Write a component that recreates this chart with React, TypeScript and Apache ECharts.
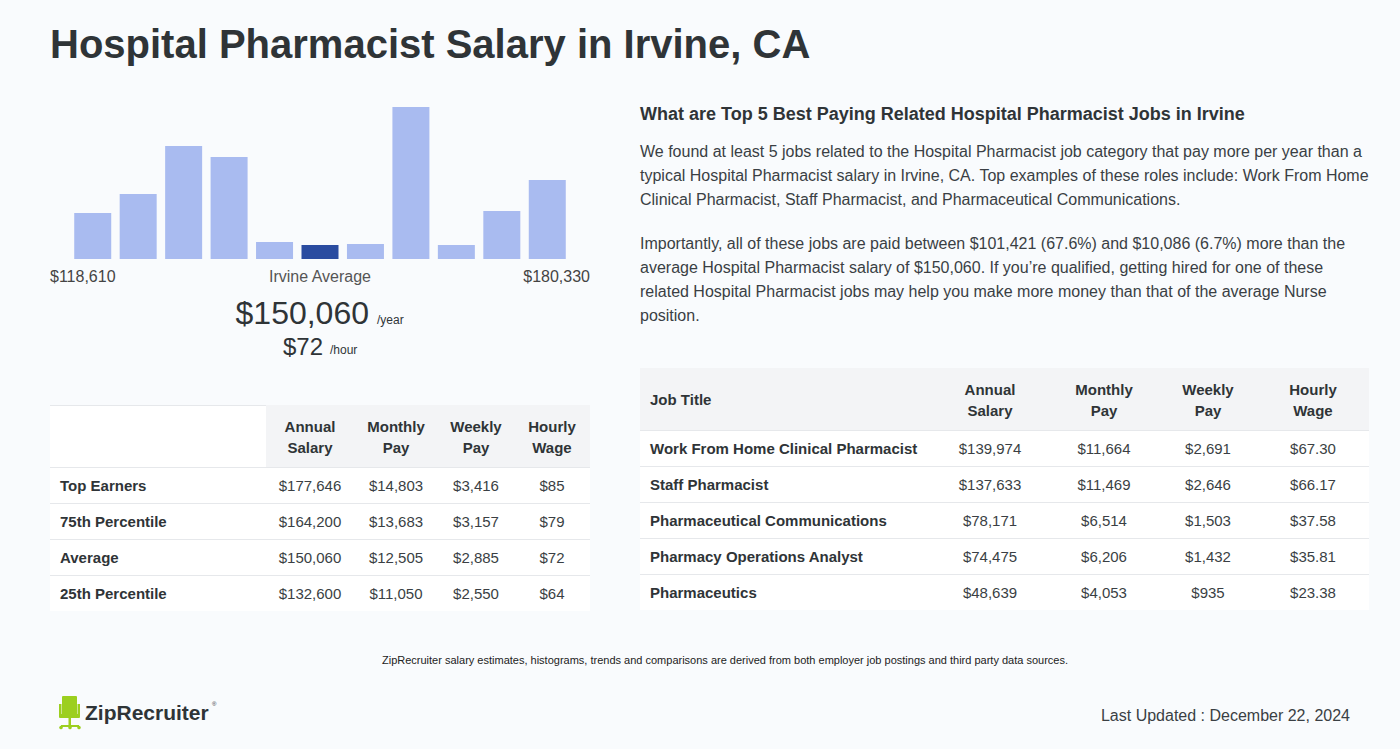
import React, { useEffect, useRef } from "react";
import * as echarts from "echarts";

const histogramValues = [46, 65, 113, 102, 17, 14, 15, 152, 14, 48, 79];
const highlightIndex = 5;
const rangeLow = "$118,610";
const rangeHigh = "$180,330";
const avgYear = "$150,060";
const avgHour = "$72";

const leftHeaders = [["Annual", "Salary"], ["Monthly", "Pay"], ["Weekly", "Pay"], ["Hourly", "Wage"]];
const percentileLabels = ["Top Earners", "75th Percentile", "Average", "25th Percentile"];
const pAnnual = ["$177,646", "$164,200", "$150,060", "$132,600"];
const pMonthly = ["$14,803", "$13,683", "$12,505", "$11,050"];
const pWeekly = ["$3,416", "$3,157", "$2,885", "$2,550"];
const pHourly = ["$85", "$79", "$72", "$64"];

const jobTitles = [
  "Work From Home Clinical Pharmacist",
  "Staff Pharmacist",
  "Pharmaceutical Communications",
  "Pharmacy Operations Analyst",
  "Pharmaceutics",
];
const jAnnual = ["$139,974", "$137,633", "$78,171", "$74,475", "$48,639"];
const jMonthly = ["$11,664", "$11,469", "$6,514", "$6,206", "$4,053"];
const jWeekly = ["$2,691", "$2,646", "$1,503", "$1,432", "$935"];
const jHourly = ["$67.30", "$66.17", "$37.58", "$35.81", "$23.38"];

const titleText = "Hospital Pharmacist Salary in Irvine, CA";
const rightHeading = "What are Top 5 Best Paying Related Hospital Pharmacist Jobs in Irvine";
const para1 = [
  "We found at least 5 jobs related to the Hospital Pharmacist job category that pay more per year than a",
  "typical Hospital Pharmacist salary in Irvine, CA. Top examples of these roles include: Work From Home",
  "Clinical Pharmacist, Staff Pharmacist, and Pharmaceutical Communications.",
];
const para2 = [
  "Importantly, all of these jobs are paid between $101,421 (67.6%) and $10,086 (6.7%) more than the",
  "average Hospital Pharmacist salary of $150,060. If you\u2019re qualified, getting hired for one of these",
  "related Hospital Pharmacist jobs may help you make more money than that of the average Nurse",
  "position.",
];
const footnote =
  "ZipRecruiter salary estimates, histograms, trends and comparisons are derived from both employer job postings and third party data sources.";
const updated = "Last Updated : December 22, 2024";

const FF = "'Liberation Sans', Arial, Helvetica, sans-serif";
const DARK = "#2f3437";
const TXT = "#3a3f44";

function txt(text: string, x: number, y: number, size: number, opts: any = {}) {
  return {
    type: "text",
    silent: true,
    style: {
      text,
      x,
      y,
      font: `${opts.bold ? "bold " : ""}${size}px ${FF}`,
      fill: opts.color || TXT,
      textAlign: opts.align || "left",
      textVerticalAlign: "middle",
    },
  };
}

export default function App() {
  const ref = useRef<HTMLDivElement>(null);
  useEffect(() => {
    if (!ref.current) return;
    const chart = echarts.init(ref.current, null, { renderer: "svg" });
    const g: any[] = [];

    // title
    g.push(txt(titleText, 50, 44, 40, { bold: true, color: DARK }));

    // histogram labels
    g.push(txt(rangeLow, 50, 276, 16, { color: "#444" }));
    g.push(txt("Irvine Average", 320, 276, 16, { color: "#555", align: "center" }));
    g.push(txt(rangeHigh, 590, 276, 16, { color: "#444", align: "right" }));
    g.push(txt(avgYear, 369, 313, 32, { color: DARK, align: "right" }));
    g.push(txt("/year", 377, 320, 12, { color: DARK }));
    g.push(txt(avgHour, 323, 346, 24, { color: DARK, align: "right" }));
    g.push(txt("/hour", 330, 350, 12, { color: DARK }));

    // left table
    const lCols = [310, 396, 476, 552];
    g.push({ type: "rect", silent: true, shape: { x: 50, y: 405, width: 540, height: 206 }, style: { fill: "#ffffff" } });
    g.push({ type: "rect", silent: true, shape: { x: 266, y: 405, width: 324, height: 62 }, style: { fill: "#f3f4f6" } });
    g.push({ type: "line", silent: true, shape: { x1: 50, y1: 405.5, x2: 266, y2: 405.5 }, style: { stroke: "#e6e8eb", lineWidth: 1 } });
    leftHeaders.forEach((h, i) => {
      g.push(txt(h[0], lCols[i], 426, 15, { bold: true, color: DARK, align: "center" }));
      g.push(txt(h[1], lCols[i], 447, 15, { bold: true, color: DARK, align: "center" }));
    });
    percentileLabels.forEach((lab, r) => {
      const top = 467 + r * 36;
      g.push({ type: "line", silent: true, shape: { x1: 50, y1: top + 0.5, x2: 590, y2: top + 0.5 }, style: { stroke: "#e6e8eb", lineWidth: 1 } });
      const cy = top + 18;
      g.push(txt(lab, 60, cy, 15, { bold: true, color: DARK }));
      [pAnnual, pMonthly, pWeekly, pHourly].forEach((arr, c) => {
        g.push(txt(arr[r], lCols[c], cy, 15, { color: TXT, align: "center" }));
      });
    });

    // right text
    g.push(txt(rightHeading, 640, 114, 18, { bold: true, color: DARK }));
    para1.forEach((l, i) => g.push(txt(l, 640, 151 + i * 24, 16, { color: TXT })));
    para2.forEach((l, i) => g.push(txt(l, 640, 243 + i * 24, 16, { color: TXT })));

    // right table
    const rCols = [990, 1104, 1208, 1313];
    g.push({ type: "rect", silent: true, shape: { x: 640, y: 368, width: 729, height: 242 }, style: { fill: "#ffffff" } });
    g.push({ type: "rect", silent: true, shape: { x: 640, y: 368, width: 729, height: 62 }, style: { fill: "#f3f4f6" } });
    g.push(txt("Job Title", 650, 399, 15, { bold: true, color: DARK }));
    leftHeaders.forEach((h, i) => {
      g.push(txt(h[0], rCols[i], 389, 15, { bold: true, color: DARK, align: "center" }));
      g.push(txt(h[1], rCols[i], 410, 15, { bold: true, color: DARK, align: "center" }));
    });
    jobTitles.forEach((job, r) => {
      const top = 430 + r * 36;
      g.push({ type: "line", silent: true, shape: { x1: 640, y1: top + 0.5, x2: 1369, y2: top + 0.5 }, style: { stroke: "#e6e8eb", lineWidth: 1 } });
      const cy = top + 18;
      g.push(txt(job, 650, cy, 15, { bold: true, color: DARK }));
      [jAnnual, jMonthly, jWeekly, jHourly].forEach((arr, c) => {
        g.push(txt(arr[r], rCols[c], cy, 15, { color: TXT, align: "center" }));
      });
    });

    // footer
    g.push(txt(footnote, 725, 660, 11, { color: "#222", align: "center" }));
    g.push(txt(updated, 1350, 715, 16, { color: TXT, align: "right" }));

    // logo
    const GREEN = "#9ccf1f";
    g.push({ type: "rect", silent: true, shape: { x: 62, y: 696, width: 15, height: 19, r: 1 }, style: { fill: GREEN } });
    g.push({ type: "rect", silent: true, shape: { x: 59, y: 714, width: 21, height: 4, r: 1 }, style: { fill: GREEN } });
    g.push({ type: "rect", silent: true, shape: { x: 59, y: 704, width: 2.5, height: 12 }, style: { fill: GREEN } });
    g.push({ type: "rect", silent: true, shape: { x: 77.5, y: 704, width: 2.5, height: 12 }, style: { fill: GREEN } });
    g.push({ type: "rect", silent: true, shape: { x: 68.5, y: 718, width: 2.5, height: 7 }, style: { fill: GREEN } });
    g.push({ type: "line", silent: true, shape: { x1: 61, y1: 726, x2: 79, y2: 726 }, style: { stroke: GREEN, lineWidth: 2 } });
    [61, 70, 79].forEach((cx) =>
      g.push({ type: "circle", silent: true, shape: { cx, cy: 727.5, r: 1.8 }, style: { fill: GREEN } })
    );
    g.push(txt("ZipRecruiter", 85, 712, 21, { bold: true, color: DARK }));
    g.push(txt("\u00ae", 212, 704, 6, { color: DARK }));

    chart.setOption({
      animation: false,
      backgroundColor: "#f9fbfd",
      grid: { left: 70, top: 107, width: 500, height: 152 },
      xAxis: {
        type: "category",
        data: histogramValues.map((_, i) => String(i)),
        show: false,
      },
      yAxis: { type: "value", min: 0, max: 152, show: false },
      series: [
        {
          type: "bar",
          barWidth: 37,
          data: histogramValues.map((v, i) => ({
            value: v,
            itemStyle: { color: i === highlightIndex ? "#2a4ca0" : "#a9bbf0" },
          })),
          silent: true,
        },
      ],
      graphic: g,
    });
    return () => chart.dispose();
  }, []);
  return (
    <div
      ref={ref}
      style={{ position: "fixed", left: 0, top: 0, width: 1400, height: 749 }}
    />
  );
}
